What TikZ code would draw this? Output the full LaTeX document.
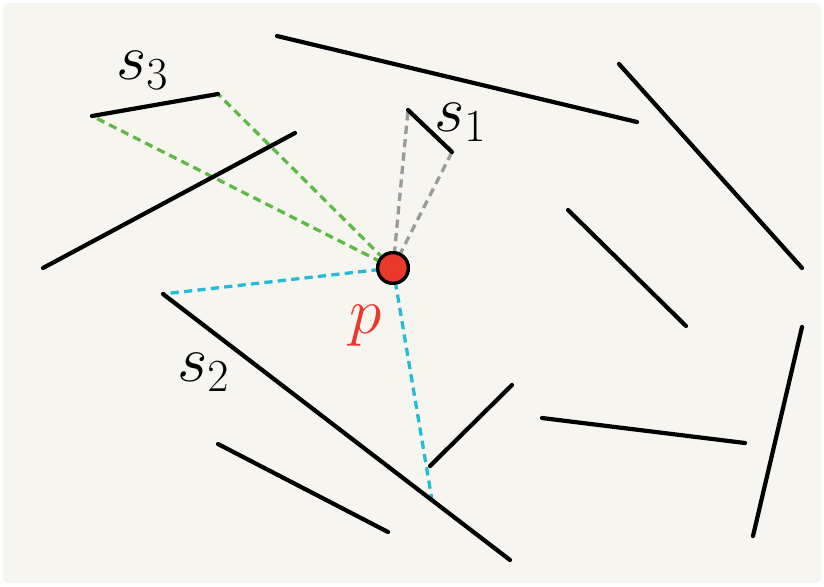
\RequirePackage{fix-cm}
\documentclass[tikz,border=0pt]{standalone}
\usepackage{xcolor}
\usepackage{tikz}
\usetikzlibrary{positioning}

\definecolor{paper}{HTML}{F7F5EF}
\definecolor{rayGray}{HTML}{9A9A9A}
\definecolor{rayGreen}{HTML}{5DBA45}
\definecolor{rayCyan}{HTML}{22BBD8}
\definecolor{ptRed}{HTML}{E8392A}

\begin{document}
\begin{tikzpicture}[
    x=0.03cm, y=-0.03cm,
    seg/.style={line width=3.6pt, line cap=round},
    ray/.style={line width=2.8pt, dash pattern=on 7pt off 4.5pt},
    pt/.style={circle, draw, line width=2.8pt, fill=ptRed, minimum size=0.92cm, inner sep=0pt},
    lbl/.style={font=\fontsize{56}{56}\selectfont, inner sep=0pt}
]
% paper
\fill[white] (0,0) rectangle (824,586);
\fill[paper, rounded corners=4pt] (3,3) rectangle (821,583);
\useasboundingbox (0,0) rectangle (824,586);

% segment end points
\coordinate (a1) at (277,36);  \coordinate (a2) at (637,122);
\coordinate (s3a) at (92,116); \coordinate (s3b) at (218,94);
\coordinate (s1a) at (408,110); \coordinate (s1b) at (452,152);
\coordinate (b1) at (43,268);  \coordinate (b2) at (295,133);
\coordinate (c1) at (619,64);  \coordinate (c2) at (802,268);
\coordinate (d1) at (568,210); \coordinate (d2) at (686,326);
\coordinate (s2a) at (163,294); \coordinate (s2b) at (510,560);
\coordinate (e1) at (430,466); \coordinate (e2) at (512,385);
\coordinate (f1) at (218,444); \coordinate (f2) at (388,532);
\coordinate (g1) at (542,418); \coordinate (g2) at (745,443);
\coordinate (h1) at (802,327); \coordinate (h2) at (753,536);
\coordinate (hit) at (432,500);

% rays from p
\node[pt] (p) at (393,268) {};
\draw[ray, rayGray] (p.center) -- (s1a);
\draw[ray, rayGray] (p.center) -- (s1b);
\draw[ray, rayGreen] (p.center) -- (s3a);
\draw[ray, rayGreen] (p.center) -- (s3b);
\draw[ray, rayCyan] (p.center) -- (s2a);
\draw[ray, rayCyan] (p.center) -- (hit);

% segments
\foreach \u/\v in {a1/a2, s3a/s3b, s1a/s1b, b1/b2, c1/c2, d1/d2,
                   s2a/s2b, e1/e2, f1/f2, g1/g2, h1/h2}
  \draw[seg] (\u) -- (\v);

\node[pt] (pdot) at (p) {};

% labels
\node[lbl] (l3) at (142,70) {$s_3$};
\node[lbl] (l1) at (460,122) {$s_1$};
\node[lbl] (l2) at (203,372) {$s_2$};
\node[lbl, text=ptRed] (lp) at (366,326) {$p$};
\end{tikzpicture}
\end{document}
